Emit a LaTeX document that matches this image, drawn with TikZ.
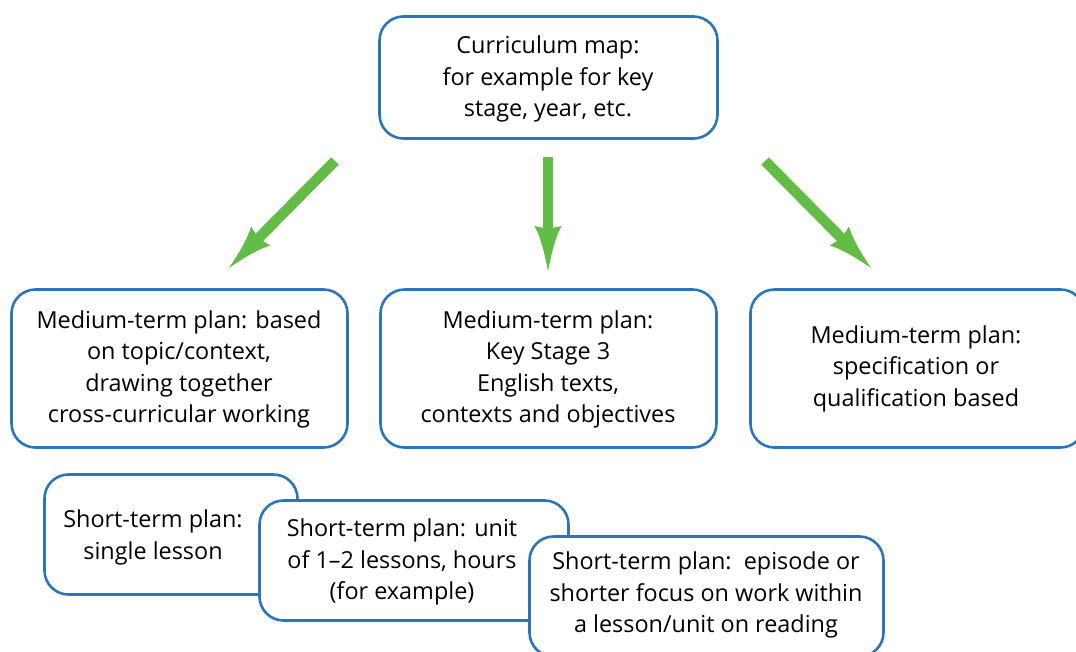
\documentclass[tikz,border=0pt]{standalone}
\usepackage{fontspec}
\setmainfont{Open Sans}
\usetikzlibrary{arrows.meta}
\definecolor{boxblue}{HTML}{2C74BC}
\definecolor{arrgreen}{HTML}{63BC46}
\pgfdeclarearrow{
  name=ConcaveHead,
  setup code={
    \pgfarrowssettipend{0pt}
    \pgfarrowssetbackend{-45pt}
    \pgfarrowssetlineend{-30pt}
    \pgfarrowshullpoint{0pt}{0pt}
    \pgfarrowshullpoint{-45pt}{13.5pt}
    \pgfarrowshullpoint{-45pt}{-13.5pt}
  },
  drawing code={
    \pgfsetfillcolor{arrgreen}
    \pgfpathmoveto{\pgfpoint{0pt}{0pt}}
    \pgfpathcurveto{\pgfpoint{-18pt}{3.5pt}}{\pgfpoint{-34pt}{7.5pt}}{\pgfpoint{-45pt}{13.5pt}}
    \pgfpathlineto{\pgfpoint{-42pt}{0pt}}
    \pgfpathlineto{\pgfpoint{-45pt}{-13.5pt}}
    \pgfpathcurveto{\pgfpoint{-34pt}{-7.5pt}}{\pgfpoint{-18pt}{-3.5pt}}{\pgfpoint{0pt}{0pt}}
    \pgfpathclose
    \pgfusepathqfill
  }
}
\tikzset{
  planbox/.style={draw=boxblue, line width=2.6pt, fill=white, rounded corners=24pt, inner sep=0pt},
  plantext/.style={align=center, inner sep=0pt, font=\fontsize{23.4}{31.5}\selectfont},
  greenarrow/.style={draw=arrgreen, line width=10.5pt, -{ConcaveHead}}
}
\begin{document}
\begin{tikzpicture}[x=1pt,y=-1pt]
\useasboundingbox (0,0) rectangle (1076,651);
\clip (0,0) rectangle (1076,651);
% top box
\node[planbox, minimum width=338pt, minimum height=122pt] (top) at (548.5,77.5) {};
\node[plantext] (ttop) at (548,79) {Curriculum map:\\for example for key\\stage, year, etc.};
% medium-term boxes
\node[planbox, minimum width=336pt, minimum height=158pt] (m1) at (179.5,368.5) {};
\node[plantext] (tm1) at (179,369.5) {Medium-term plan: based\\on topic/context,\\drawing together\\cross-curricular working};
\node[planbox, minimum width=336pt, minimum height=158pt] (m2) at (548.5,368.5) {};
\node[plantext] (tm2) at (548,369.5) {Medium-term plan:\\Key Stage 3\\English texts,\\contexts and objectives};
\node[planbox, minimum width=334pt, minimum height=158pt] (m3) at (917.5,368.5) {};
\node[plantext] (tm3) at (916,368.5) {Medium-term plan:\\specification or\\qualification based};
% short-term boxes
\node[planbox, minimum width=253pt, minimum height=120pt] (s1) at (171,534.5) {};
\node[plantext] (ts1) at (153,537.5) {Short-term plan:\\single lesson};
\node[planbox, minimum width=309pt, minimum height=120pt] (s2) at (414,560.5) {};
\node[plantext] (ts2) at (402,562) {Short-term plan: unit\\of 1--2 lessons, hours\\(for example)};
\node[planbox, minimum width=354pt, minimum height=120pt] (s3) at (706.5,596.5) {};
\node[plantext] (ts3) at (706,595) {Short-term plan:\ \ episode or\\shorter focus on work within\\a lesson/unit on reading};
% arrows
\coordinate (a1s) at (335,161);
\coordinate (a1e) at (229,268);
\coordinate (a2s) at (548,157);
\coordinate (a2e) at (548,271);
\coordinate (a3s) at (765,161);
\coordinate (a3e) at (871,268);
\draw[greenarrow] (a1s) -- (a1e);
\draw[greenarrow] (a2s) -- (a2e);
\draw[greenarrow] (a3s) -- (a3e);
\end{tikzpicture}
\end{document}
